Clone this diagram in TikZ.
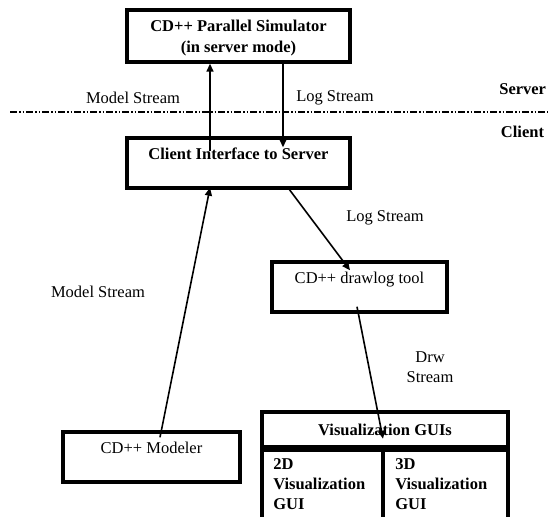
\documentclass[tikz,border=0pt]{standalone}
\usepackage{fontspec}
\setmainfont{Liberation Serif}
\usetikzlibrary{arrows.meta}

\tikzset{
  box/.style={draw, line width=3.4pt, inner sep=0pt},
  boxtxt/.style={anchor=north, inner sep=0.75pt, align=center, font=\bfseries},
  lbl/.style={inner sep=0.75pt, align=center},
  flow/.style={line width=1.6pt, -{Triangle[length=8pt,width=7pt]}},
  border/.style={line width=2pt, dash pattern=on 7pt off 2pt on 1.5pt off 2pt on 1.5pt off 2pt},
}

\begin{document}
\fontsize{16.5}{20}\selectfont
\begin{tikzpicture}[x=1pt,y=1pt,yscale=-1,xscale=1]
\useasboundingbox (0,0) rectangle (548,516);
\clip (0,0) rectangle (548,516);

%Shape: Rectangle [server side]
\node[box, minimum width=223, minimum height=52] (sim) at (238.5,36) {};
\node[boxtxt] (simtxt) at ([yshift=11pt]sim.north) {CD++ Parallel Simulator\\[1pt](in server mode)};
%Shape: Rectangle [client interface]
\node[box, minimum width=223, minimum height=50] (client) at (238.5,163) {};
\node[boxtxt] (clienttxt) at ([yshift=11pt]client.north) {Client Interface to Server};
%Shape: Rectangle [drawlog]
\node[box, minimum width=175, minimum height=50] (drawlog) at (359.5,287) {};
\node[boxtxt, font=\normalfont] (drawlogtxt) at ([yshift=11pt]drawlog.north) {CD++ drawlog tool};
%Shape: Rectangle [modeler]
\node[box, minimum width=177, minimum height=50] (modeler) at (151.5,457) {};
\node[boxtxt, font=\normalfont] (modelertxt) at ([yshift=11pt]modeler.north) {CD++ Modeler};

%Shape: Table [visualization GUIs]
\node[box, minimum width=246, minimum height=35, font=\bfseries] (gui) at (385,429.5) {Visualization GUIs};
\node[box, minimum width=121, minimum height=90, anchor=north west] (gui2d) at (gui.south west) {};
\node[box, minimum width=125, minimum height=90, anchor=north east] (gui3d) at (gui.south east) {};
\node[boxtxt, anchor=north west, align=left] (gui2dtxt) at ([xshift=12pt,yshift=9pt]gui2d.north west) {2D\\Visualization\\GUI};
\node[boxtxt, anchor=north west, align=left] (gui3dtxt) at ([xshift=13pt,yshift=9pt]gui3d.north west) {3D\\Visualization\\GUI};

%Straight Lines [server / client border]
\coordinate (bl) at (10,112);
\coordinate (br) at (548,112);
\draw[border] (bl) -- (br);

% Text Node
\node[lbl, font=\bfseries, anchor=east] (server) at (547,89) {Server};
% Text Node
\node[lbl, font=\bfseries, anchor=west] (clientlbl) at (500,132) {Client};

%Straight Lines [model stream up]
\coordinate (upx) at (210,0);
\coordinate (dnx) at (283,0);
\draw[flow] ([yshift=15pt]client.north -| upx) -- (sim.south -| upx);
%Straight Lines [log stream down]
\draw[flow] ([yshift=-3pt]sim.south -| dnx) -- ([yshift=11pt]client.north -| dnx);
%Straight Lines [log stream to drawlog]
\draw[flow] ([xshift=51pt]client.south) -- ([xshift=-9.5pt,yshift=10pt]drawlog.north);
%Straight Lines [drw stream]
\draw[flow] ([xshift=-2.5pt,yshift=-7pt]drawlog.south) -- ([xshift=-2pt,yshift=-10pt]gui.south);
%Straight Lines [model stream from modeler]
\draw[flow] ([xshift=8.5pt,yshift=7pt]modeler.north) -- ([yshift=-2pt]client.south -| upx);

% Text Node
\node[lbl] (msup) at (133,98) {Model Stream};
% Text Node
\node[lbl] (lsup) at (335,98) {Log Stream};
% Text Node
\node[lbl] (lsdn) at (385,218) {Log Stream};
% Text Node
\node[lbl] (drw) at (430,367) {Drw\\Stream};
% Text Node
\node[lbl] (msleft) at (98,292) {Model Stream};

\end{tikzpicture}
\end{document}
